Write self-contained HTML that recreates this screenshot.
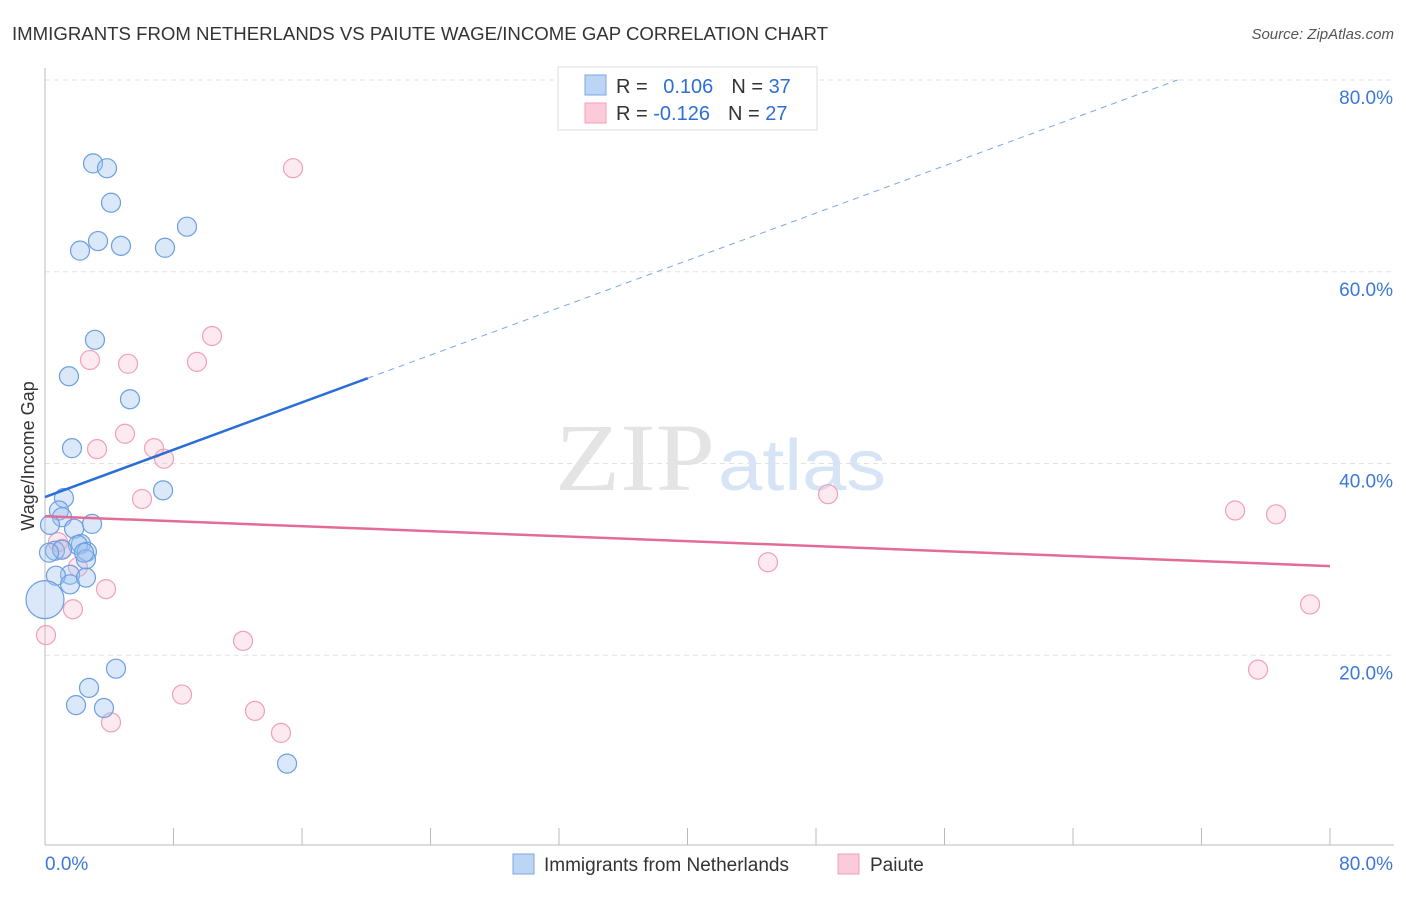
<!DOCTYPE html>
<html><head><meta charset="utf-8"><style>
body{margin:0;background:#fff;font-family:"Liberation Sans",sans-serif}
</style></head><body>
<svg id="c" width="1406" height="892" xmlns="http://www.w3.org/2000/svg">
<text x="12" y="40" font-size="18" fill="#333" textLength="816" lengthAdjust="spacingAndGlyphs">IMMIGRANTS FROM NETHERLANDS VS PAIUTE WAGE/INCOME GAP CORRELATION CHART</text>
<text x="1394" y="39" font-size="15" fill="#555" text-anchor="end" font-style="italic">Source: ZipAtlas.com</text>
<text x="555" y="490" font-size="96" fill="#e4e4e4" textLength="160" lengthAdjust="spacingAndGlyphs" font-family="Liberation Serif">ZIP</text>
<text x="718" y="490" font-size="72" fill="#d6e4f5" textLength="168" lengthAdjust="spacingAndGlyphs">atlas</text>
<text transform="translate(34,456) rotate(-90)" font-size="18" fill="#333" text-anchor="middle">Wage/Income Gap</text>
<g id="grid"></g><g id="pts"></g><g id="trend"></g>
<g>
<rect x="558" y="67" width="259" height="63" fill="#fff" stroke="#ddd"/>
<rect x="585" y="75" width="21" height="20" fill="#bcd5f5" stroke="#7aa7e4"/>
<rect x="585" y="103" width="21" height="20" fill="#fbcbd9" stroke="#f0a0b8"/>
<text x="616" y="93" font-size="20" fill="#333">R = <tspan fill="#2e6fd6" dx="10">0.106</tspan><tspan dx="18" fill="#333">N = </tspan><tspan fill="#2e6fd6">37</tspan></text>
<text x="616" y="120" font-size="20" fill="#333">R = <tspan fill="#2e6fd6">-0.126</tspan><tspan dx="18" fill="#333">N = </tspan><tspan fill="#2e6fd6">27</tspan></text>
</g>
<g>
<rect x="513" y="854" width="21" height="20" fill="#bcd5f5" stroke="#7aa7e4"/>
<text x="544" y="871" font-size="19" fill="#333">Immigrants from Netherlands</text>
<rect x="838" y="854" width="21" height="20" fill="#fbcbd9" stroke="#f0a0b8"/>
<text x="870" y="871" font-size="19" fill="#333">Paiute</text>
</g>
</svg>
<script>
const blueX=[2.99,3.86,4.11,3.30,2.18,4.73,7.47,8.84,3.11,1.49,5.29,1.68,7.35,1.18,0.87,1.06,2.93,0.31,1.81,2.24,2.05,0.62,2.61,1.06,2.55,1.56,0.68,1.56,2.55,0,4.42,2.74,1.93,3.67,15.07,0.25,2.43];
const blueY=[71.3,70.8,67.2,63.2,62.2,62.7,62.5,64.7,52.9,49.1,46.7,41.6,37.2,36.4,35.1,34.4,33.7,33.6,33.2,31.6,31.5,30.9,30.8,31.0,30.0,28.4,28.3,27.4,28.1,25.8,18.6,16.6,14.8,14.5,8.7,30.7,30.7];
const blueBig=[29];
const pinkX=[15.44,10.40,2.80,5.17,9.46,4.98,3.24,6.79,7.41,6.04,48.75,0.81,1.06,2.05,3.80,1.74,0.06,12.33,74.09,76.64,45.01,78.76,75.52,8.53,13.07,14.69,4.11];
const pinkY=[70.8,53.3,50.8,50.4,50.6,43.1,41.5,41.6,40.5,36.3,36.8,31.8,31.1,29.2,26.9,24.8,22.1,21.5,35.1,34.7,29.7,25.3,18.5,15.9,14.2,11.9,13.0];
const yTicks=[20,40,60,80];
const xTickLabels=["0.0%","80.0%"];
const blueTrend=[36.5,0.617];
const pinkTrend=[34.5,-0.065];
const NS="http://www.w3.org/2000/svg";
const X=v=>45+v/80*1285, Y=v=>847-v/80*767;
function mk(t,a,p){const e=document.createElementNS(NS,t);for(const k in a)e.setAttribute(k,a[k]);p.appendChild(e);return e;}
const g=document.getElementById('grid');
yTicks.forEach(t=>{
 const l=mk('line',{x1:45,x2:1394,y1:Y(t),y2:Y(t),stroke:'#e2e2e2','stroke-dasharray':'5,4'},g);
 
 
 const tx=mk('text',{x:1393,y:Y(t)+24,'font-size':19,fill:'#3b78d8','text-anchor':'end'},g);
 tx.textContent=t.toFixed(1)+'%';
 
 
});
let a=mk('line',{x1:45,x2:45,y1:68,y2:845,stroke:'#bbb'},g);


a=mk('line',{x1:45,x2:1394,y1:845,y2:845,stroke:'#bbb'},g);


for(let i=0;i<=10;i++){
 const t=mk('line',{x1:X(i*8),x2:X(i*8),y1:828,y2:845,stroke:'#bbb'},g);
 
 
}
[[0,45,'start'],[80,1393,'end']].forEach((d,i)=>{
 const t=mk('text',{x:d[1],y:870,'font-size':19,fill:'#3b78d8','text-anchor':d[2]},g);
 t.textContent=xTickLabels[i];
 
 
});
const p=document.getElementById('pts');
pinkX.forEach((x,i)=>{
 const c=mk('circle',{cx:X(x),cy:Y(pinkY[i]),r:9.5,fill:'rgba(248,180,200,0.28)',stroke:'#f0a0b8','stroke-width':1.2},p);
 
 
});
blueX.forEach((x,i)=>{
 const c=mk('circle',{cx:X(x),cy:Y(blueY[i]),r:blueBig.includes(i)?19:9.5,fill:'rgba(160,195,240,0.38)',stroke:'#6b9fe0','stroke-width':1.2},p);
 
 
});
const tr=document.getElementById('trend');
const bx2=20.1, bxEnd=(80-blueTrend[0])/blueTrend[1];
let l=mk('line',{x1:X(0),y1:Y(blueTrend[0]),x2:X(bx2),y2:Y(blueTrend[0]+blueTrend[1]*bx2),stroke:'#2a6fd6','stroke-width':2.5},tr);


l=mk('line',{x1:X(bx2),y1:Y(blueTrend[0]+blueTrend[1]*bx2),x2:X(bxEnd),y2:Y(80),stroke:'#7aa7e4','stroke-width':1,'stroke-dasharray':'6,5'},tr);


l=mk('line',{x1:X(0),y1:Y(pinkTrend[0]),x2:X(80),y2:Y(pinkTrend[0]+pinkTrend[1]*80),stroke:'#e36b97','stroke-width':2.5},tr);


</script>
</body></html>
